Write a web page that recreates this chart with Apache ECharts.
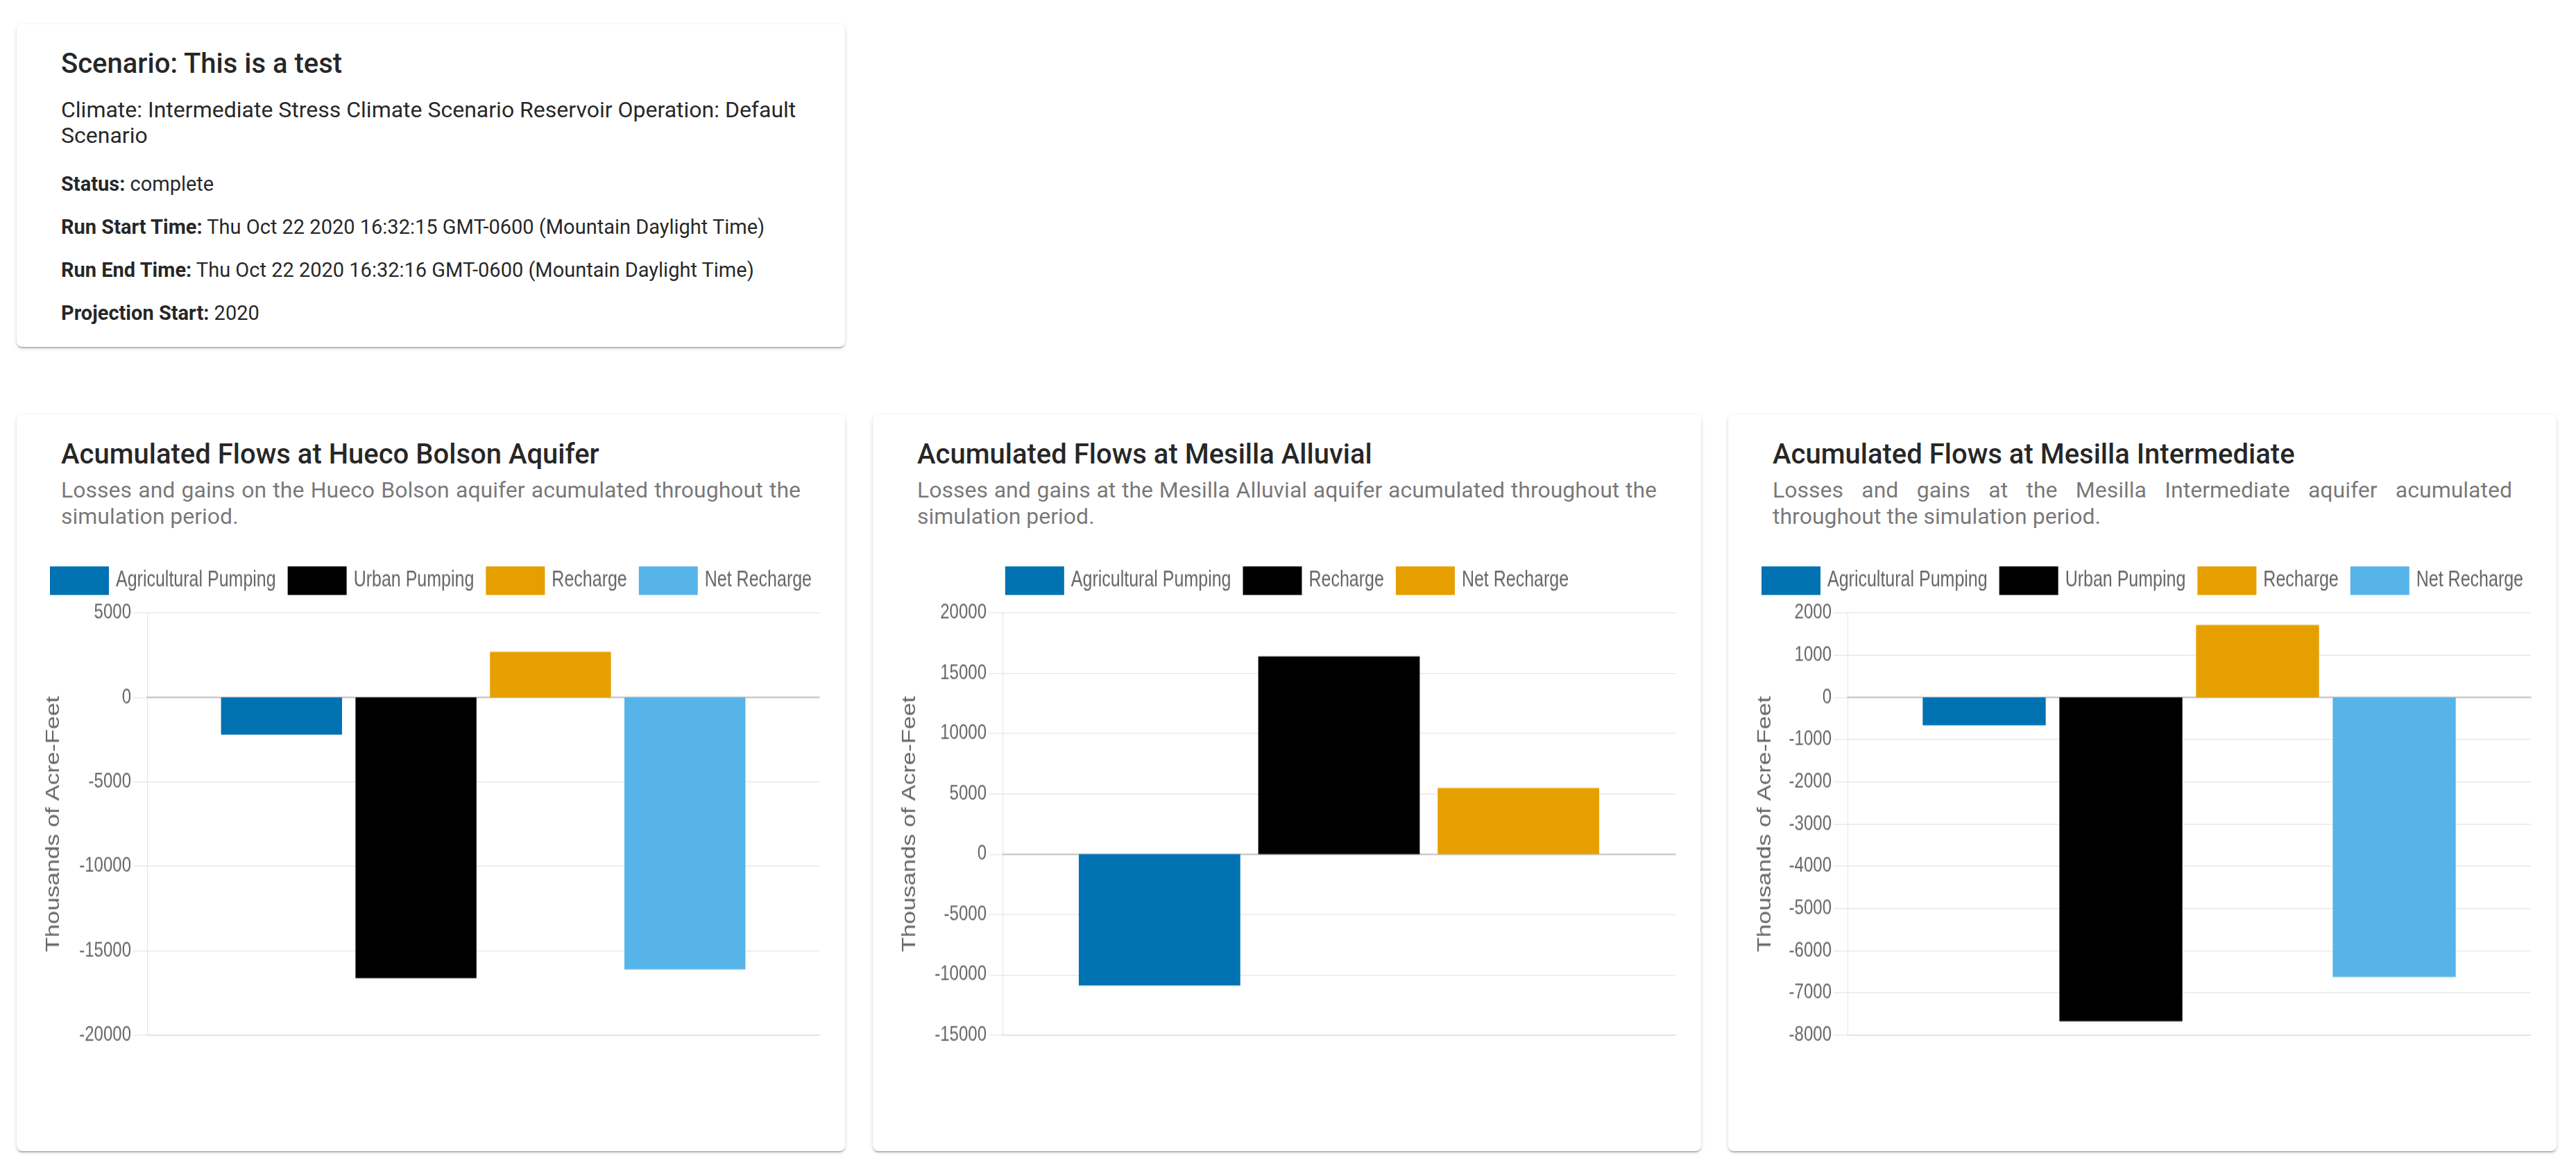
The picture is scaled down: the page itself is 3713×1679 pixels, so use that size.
<!DOCTYPE html>
<html>
<head>
<meta charset="utf-8">
<script src="https://cdn.jsdelivr.net/npm/echarts/dist/echarts.min.js"></script>
<style>
html,body{margin:0;padding:0;background:#fff;width:3713px;height:1679px;overflow:hidden;font-family:Roboto,"Noto Sans",sans-serif;}
.card{position:absolute;background:#fff;border-radius:8px;
  box-shadow:0 3px 2px -2px rgba(0,0,0,0.22),0 2px 2px 0 rgba(0,0,0,0.14),0 2px 6px 0 rgba(0,0,0,0.12);}
.ln{position:absolute;left:64px;white-space:nowrap;color:rgba(0,0,0,0.87);}
.h5{font-size:40px;font-weight:500;line-height:46px;}
.h6{font-size:32px;font-weight:400;line-height:37.3px;}
.b{font-size:29px;line-height:40px;}
.b b{font-weight:700;}
.sub{position:absolute;left:64px;right:64px;font-size:32px;line-height:38.3px;color:rgba(0,0,0,0.54);white-space:nowrap;}
.j{text-align:justify;text-align-last:justify;white-space:normal;}
.chart{position:absolute;left:0;top:202px;width:1194px;height:640px;transform:scaleY(1.25);transform-origin:0 0;}
</style>
</head>
<body>
<div class="card" style="left:24px;top:35px;width:1194px;height:465px;">
  <div class="ln h5" style="top:33.7px;">Scenario: This is a test</div>
  <div class="ln h6" style="top:105.1px;">Climate: Intermediate Stress Climate Scenario Reservoir Operation: Default</div>
  <div class="ln h6" style="top:142.4px;">Scenario</div>
  <div class="ln b" style="top:210px;"><b>Status:</b> complete</div>
  <div class="ln b" style="top:271.7px;"><b>Run Start Time:</b> Thu Oct 22 2020 16:32:15 GMT-0600 (Mountain Daylight Time)</div>
  <div class="ln b" style="top:334px;"><b>Run End Time:</b> Thu Oct 22 2020 16:32:16 GMT-0600 (Mountain Daylight Time)</div>
  <div class="ln b" style="top:396px;"><b>Projection Start:</b> 2020</div>
</div>

<div class="card" style="left:24px;top:598px;width:1194px;height:1061px;">
  <div class="ln h5" style="top:34px;">Acumulated Flows at Hueco Bolson Aquifer</div>
  <div class="sub j" style="top:88.85px;">Losses and gains on the Hueco Bolson aquifer acumulated throughout the</div>
  <div class="sub" style="top:127.15px;">simulation period.</div>
  <div class="chart" id="c1"></div>
</div>

<div class="card" style="left:1258px;top:598px;width:1194px;height:1061px;">
  <div class="ln h5" style="top:34px;">Acumulated Flows at Mesilla Alluvial</div>
  <div class="sub j" style="top:88.85px;">Losses and gains at the Mesilla Alluvial aquifer acumulated throughout the</div>
  <div class="sub" style="top:127.15px;">simulation period.</div>
  <div class="chart" id="c2"></div>
</div>

<div class="card" style="left:2491px;top:598px;width:1194px;height:1061px;">
  <div class="ln h5" style="top:34px;">Acumulated Flows at Mesilla Intermediate</div>
  <div class="sub j" style="top:88.85px;">Losses and gains at the Mesilla Intermediate aquifer acumulated</div>
  <div class="sub" style="top:127.15px;">throughout the simulation period.</div>
  <div class="chart" id="c3"></div>
</div>

<script>
// ---- data ----
const categories = ['Accumulated'];

const namesHB = ['Agricultural Pumping', 'Urban Pumping', 'Recharge', 'Net Recharge'];
const valuesHB = [-2210, -16630, 2700, -16120];
const ticksHB = [-20000, -15000, -10000, -5000, 0, 5000];

const namesMA = ['Agricultural Pumping', 'Recharge', 'Net Recharge'];
const valuesMA = [-10900, 16390, 5480];
const ticksMA = [-15000, -10000, -5000, 0, 5000, 10000, 15000, 20000];

const namesMI = ['Agricultural Pumping', 'Urban Pumping', 'Recharge', 'Net Recharge'];
const valuesMI = [-663, -7674, 1714, -6624];
const ticksMI = [-8000, -7000, -6000, -5000, -4000, -3000, -2000, -1000, 0, 1000, 2000];

const palette = ['#0072B2', '#000000', '#E69F00', '#56B4E9'];
const axisName = 'Thousands of Acre-Feet';

function makeChart(id, names, values, ticks, gridLeft, nameGap) {
  const el = document.getElementById(id);
  const chart = echarts.init(el, null, {renderer: 'canvas'});
  const n = names.length;
  const catGap = ((0.2 + 0.1 * 0.8 / n) * 100).toFixed(2) + '%';
  const gridGray = '#e4e4e4';
  const font = '"Liberation Sans", Arial, sans-serif';
  chart.setOption({
    animation: false,
    color: palette,
    textStyle: {fontFamily: font},
    legend: {
      top: 8, left: 'center', icon: 'rect',
      itemWidth: 85, itemHeight: 33, itemGap: 17,
      textStyle: {fontSize: 25, color: '#666', fontFamily: font, padding: [0, 0, 0, 5]}
    },
    grid: {left: gridLeft, right: 37, top: 66.6, bottom: 86.6},
    xAxis: [
      {type: 'category', data: categories,
       axisLabel: {show: false}, axisTick: {show: false}, splitLine: {show: false},
       axisLine: {onZero: true, lineStyle: {color: '#bdbdbd', width: 1.6}}},
      {type: 'category', data: categories, position: 'bottom',
       axisLabel: {show: false}, axisTick: {show: false}, splitLine: {show: false},
       axisLine: {onZero: false, lineStyle: {color: '#d2d2d2', width: 1.2}}}
    ],
    yAxis: {
      type: 'value',
      min: ticks[0], max: ticks[ticks.length - 1], interval: ticks[1] - ticks[0],
      name: axisName, nameLocation: 'middle', nameGap: nameGap,
      nameTextStyle: {fontSize: 27.5, color: '#666', fontFamily: font},
      axisLine: {show: true, lineStyle: {color: gridGray, width: 1}},
      axisTick: {show: true, length: 20, lineStyle: {color: gridGray}},
      axisLabel: {fontSize: 24, color: '#666', margin: 23, fontFamily: font,
                  formatter: v => String(v)},
      splitLine: {show: true, lineStyle: {color: gridGray, width: 1}}
    },
    series: names.map((nm, i) => ({
      type: 'bar', name: nm, xAxisIndex: 0, data: [values[i]],
      barGap: '11.11%', barCategoryGap: catGap
    }))
  });
}

makeChart('c1', namesHB, valuesHB, ticksHB, 188, 121);
makeChart('c2', namesMA, valuesMA, ticksMA, 187, 120);
makeChart('c3', namesMI, valuesMI, ticksMI, 172, 105);
</script>
</body>
</html>
